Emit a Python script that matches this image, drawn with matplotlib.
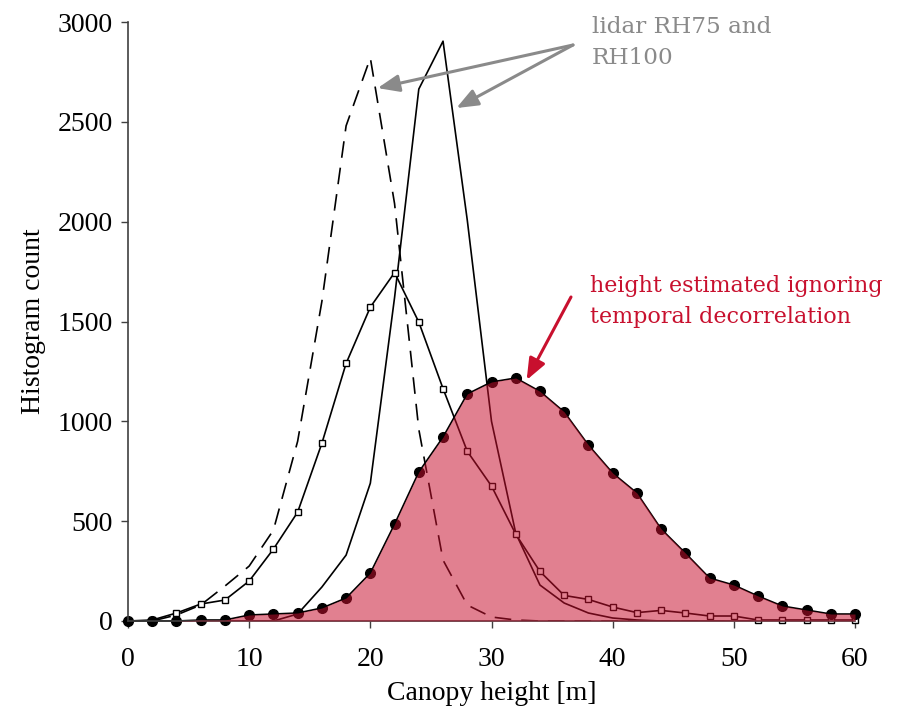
import numpy as np
import matplotlib
matplotlib.use("Agg")
import matplotlib.pyplot as plt

# canopy height bins [m]
heights = np.arange(0, 61, 2)

# height estimated ignoring temporal decorrelation (filled curve, dots)
est_ignoring = [0, 0, 0, 5, 5, 30, 35, 40, 65, 115, 240, 485, 746, 921, 1137, 1197,
                1217, 1150, 1047, 881, 741, 641, 461, 340, 215, 180, 125, 75, 55, 35, 35]

# second estimate (squares)
est_squares = [0, 5, 40, 85, 105, 200, 360, 545, 890, 1290, 1572, 1745, 1497, 1164, 850, 676,
               435, 248, 128, 108, 70, 42, 53, 40, 25, 25, 5, 5, 5, 5, 5]

# lidar RH100 (solid) and RH75 (dashed)
rh100 = [0, 0, 0, 0, 0, 0, 0, 35, 170, 330, 690, 1620, 2664, 2904, 2008, 1000,
         440, 180, 90, 40, 15, 5, 0, 0, 0, 0, 0, 0, 0, 0, 0]
rh75 = [0, 0, 30, 80, 175, 275, 455, 900, 1600, 2480, 2820, 2090, 960, 305, 80, 20,
        5, 0, 0, 0, 0, 0, 0, 0, 0, 0, 0, 0, 0, 0, 0]

red = "#C8102E"
grey = "#8A8A8A"
serif = "Liberation Serif"

fig = plt.figure(figsize=(8.99, 7.08), dpi=100)
ax = fig.add_axes([128 / 899, 87 / 708, 727 / 899, 599 / 708])

ax.plot(heights, rh75, color="black", lw=1.2, ls=(0, (10, 6)))
ax.plot(heights, rh100, color="black", lw=1.2)
ax.plot(heights, est_squares, color="black", lw=1.2, marker="s", ms=5,
        mfc="white", mec="black", mew=1.0, clip_on=False)
ax.plot(heights, est_ignoring, color="black", lw=1.2, marker="o", ms=7,
        mfc="black", mec="black", clip_on=False)
ax.fill_between(heights, 0, est_ignoring, color=red, alpha=0.53, lw=0, zorder=3)

ax.set_xlim(0, 60)
ax.set_ylim(0, 3000)
ax.set_xticks(np.arange(0, 61, 10))
ax.set_yticks(np.arange(0, 3001, 500))
for s in ["top", "right"]:
    ax.spines[s].set_visible(False)
for s in ["left", "bottom"]:
    ax.spines[s].set_color("#404040")
    ax.spines[s].set_linewidth(1.2)
ax.tick_params(direction="out", length=5, width=1.0, color="#404040",
               labelsize=20, pad=6)
ax.tick_params(axis="x", pad=14)
for lab in ax.get_xticklabels() + ax.get_yticklabels():
    lab.set_fontfamily(serif)
ax.set_xlabel("Canopy height [m]", fontsize=20, family=serif, labelpad=6)
ax.set_ylabel("Histogram count", fontsize=20, family=serif, labelpad=8)

# lidar annotation with two arrows
fig.text(592 / 899, 1 - 16 / 708, "lidar RH75 and\nRH100", color=grey,
         fontsize=16.7, family="DejaVu Serif", va="top", ha="left", linespacing=1.55)
arrow_grey = dict(arrowstyle="-|>,head_length=1.0,head_width=0.4", color=grey,
                  lw=2.2, mutation_scale=13, shrinkA=0, shrinkB=0)
for target in [(20.6, 2669), (27.1, 2569)]:
    ax.annotate("", xy=target, xytext=(573 / 899, 1 - 45 / 708),
                textcoords="figure fraction", arrowprops=arrow_grey,
                annotation_clip=False)

# estimate annotation
fig.text(590 / 899, 1 - 275 / 708, "height estimated ignoring\ntemporal decorrelation",
         color=red, fontsize=16, family="DejaVu Serif", va="top", ha="left",
         linespacing=1.5)
ax.annotate("", xy=(32.9, 1207), xytext=(571 / 899, 1 - 297 / 708),
            textcoords="figure fraction",
            arrowprops=dict(arrowstyle="-|>,head_length=1.0,head_width=0.4",
                            color=red, lw=2.2, mutation_scale=13, shrinkA=0, shrinkB=0),
            annotation_clip=False)

fig.savefig("out.png", dpi=100)
